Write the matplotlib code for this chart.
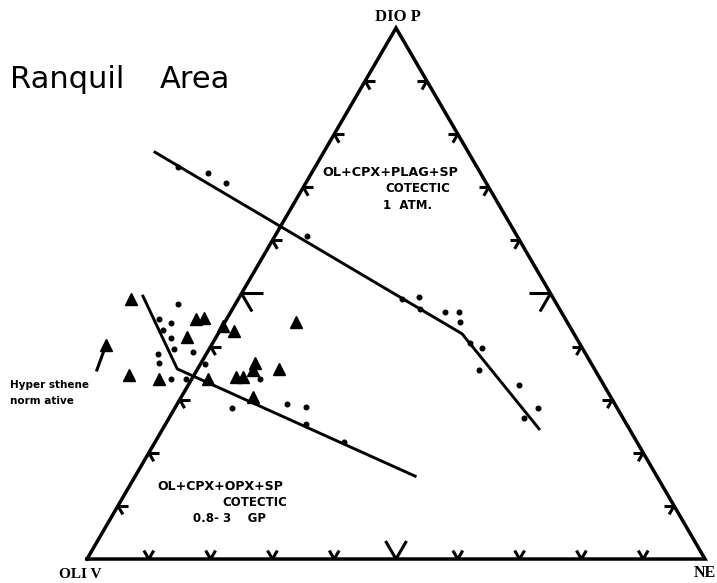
import matplotlib.pyplot as plt
import numpy as np

#compositions (%) : DIOP, NE  (OLIV = 100 - DIOP - NE)
dots_diop = [73.8, 72.7, 70.8, 60.8, 49.0, 49.3, 47.1, 46.5, 46.5, 44.6, 40.7, 39.7, 35.6, 32.8,
             28.4, 26.6, 48.0, 45.2, 44.4, 43.1, 41.6, 39.5, 38.6, 36.9, 39.0, 33.9, 33.9, 36.7,
             33.9, 28.4, 29.2, 28.6, 25.4, 22.0]
dots_ne = [-22.2, -16.7, -12.9, 5.2, 26.5, 29.0, 30.4, 34.6, 36.9, 38.1, 41.7, 44.0, 45.6, 53.5,
           58.8, 57.4, -9.3, -10.9, -8.6, -9.3, -7.2, -5.6, -7.8, -6.8, -2.3, -3.4, -1.0, 0.7,
           11.0, 9.3, 17.8, 21.1, 22.7, 30.6]

tri_diop = [49.0, 40.3, 34.7, 33.9, 41.8, 45.2, 45.4, 43.9, 42.9, 44.6, 36.9, 35.6, 35.8,
            34.3, 34.3, 33.9, 30.5]
tri_ne = [-17.4, -17.1, -10.5, -5.3, -4.7, -5.0, -3.8, 0.1, 2.4, 11.5, 8.8, 9.1, 13.2,
          7.0, 8.1, 2.6, 11.6]

#cotectique 1 atm
cot1_diop = [76.6, 42.4, 24.5]
cot1_ne = [-27.3, 39.5, 60.9]
#cotectique 0.8-3 GP
cot2_diop = [49.5, 35.8, 15.6]
cot2_ne = [-15.7, -3.3, 45.3]
#trait hypersthene
hy_diop = [38.8, 35.6]
hy_ne = [-16.8, -16.2]

graduations = [10, 20, 30, 40, 50, 60, 70, 80, 90]


def xy(diop, ne):
    d = np.array(diop, dtype=float)/100.0
    n = np.array(ne, dtype=float)/100.0
    return n + d/2, d*np.sqrt(3)/2


def tick(ax, x0, y0, dirs, L):
    for a in dirs:
        ax.plot([x0, x0 + L*np.cos(np.radians(a))], [y0, y0 + L*np.sin(np.radians(a))],
                color='black', lw=2.2, solid_capstyle='butt')


fig = plt.figure(figsize=(7.17, 5.83), dpi=100)
ax = fig.add_axes([0, 0, 1, 1])
ax.axis('off')
ax.set_xlim(-0.1408, 1.0194)
ax.set_ylim(-0.0391, 0.9116)

#triangle
tx, ty = xy([0, 0, 100, 0], [0, 100, 0, 0])
ax.plot(tx, ty, color='black', lw=2.5, solid_joinstyle='miter')

#graduations
for g in graduations:
    L = 0.034 if g == 50 else 0.016
    x0, y0 = xy(g, 0)
    tick(ax, x0, y0, [0, 300], L)
    x0, y0 = xy(g, 100 - g)
    tick(ax, x0, y0, [180, 240], L)
    x0, y0 = xy(0, g)
    tick(ax, x0, y0, [60, 120], L)

#lignes cotectiques
x, y = xy(cot1_diop, cot1_ne)
ax.plot(x, y, color='black', lw=2.1)
x, y = xy(cot2_diop, cot2_ne)
ax.plot(x, y, color='black', lw=2.1)
x, y = xy(hy_diop, hy_ne)
ax.plot(x, y, color='black', lw=2.2)

#points
x, y = xy(dots_diop, dots_ne)
ax.plot(x, y, 'o', color='black', ms=3.3, ls='none')
x, y = xy(tri_diop, tri_ne)
ax.plot(x, y, '^', color='black', ms=9, ls='none')


def txt(px, py, s, **kw):
    fig.text(px/717.0, 1 - py/583.0, s, **kw)


txt(10, 80, 'Ranquil', fontsize=22, va='center', ha='left')
txt(160, 80, 'Area', fontsize=22, va='center', ha='left')

txt(398, 17, 'DIO P', fontsize=12, family='Liberation Serif', weight='bold', ha='center', va='center')
txt(80, 574, 'OLI V', fontsize=11, family='Liberation Serif', weight='bold', ha='center', va='center')
txt(705, 573, 'NE', fontsize=11.5, family='Liberation Serif', weight='bold', ha='center', va='center')

txt(322, 172, 'OL+CPX+PLAG+SP', fontsize=9.2, weight='bold', ha='left', va='center')
txt(385, 189, 'COTECTIC', fontsize=8.5, weight='bold', ha='left', va='center')
txt(383, 206, '1  ATM.', fontsize=8.5, weight='bold', ha='left', va='center')

txt(157, 487, 'OL+CPX+OPX+SP', fontsize=9.0, weight='bold', ha='left', va='center')
txt(222, 503, 'COTECTIC', fontsize=8.5, weight='bold', ha='left', va='center')
txt(193, 519, '0.8- 3    GP', fontsize=8.5, weight='bold', ha='left', va='center')

txt(10, 385, 'Hyper sthene', fontsize=7.5, weight='bold', ha='left', va='center')
txt(10, 401, 'norm ative', fontsize=7.5, weight='bold', ha='left', va='center')

fig.savefig('out.png', dpi=100, facecolor='white')
